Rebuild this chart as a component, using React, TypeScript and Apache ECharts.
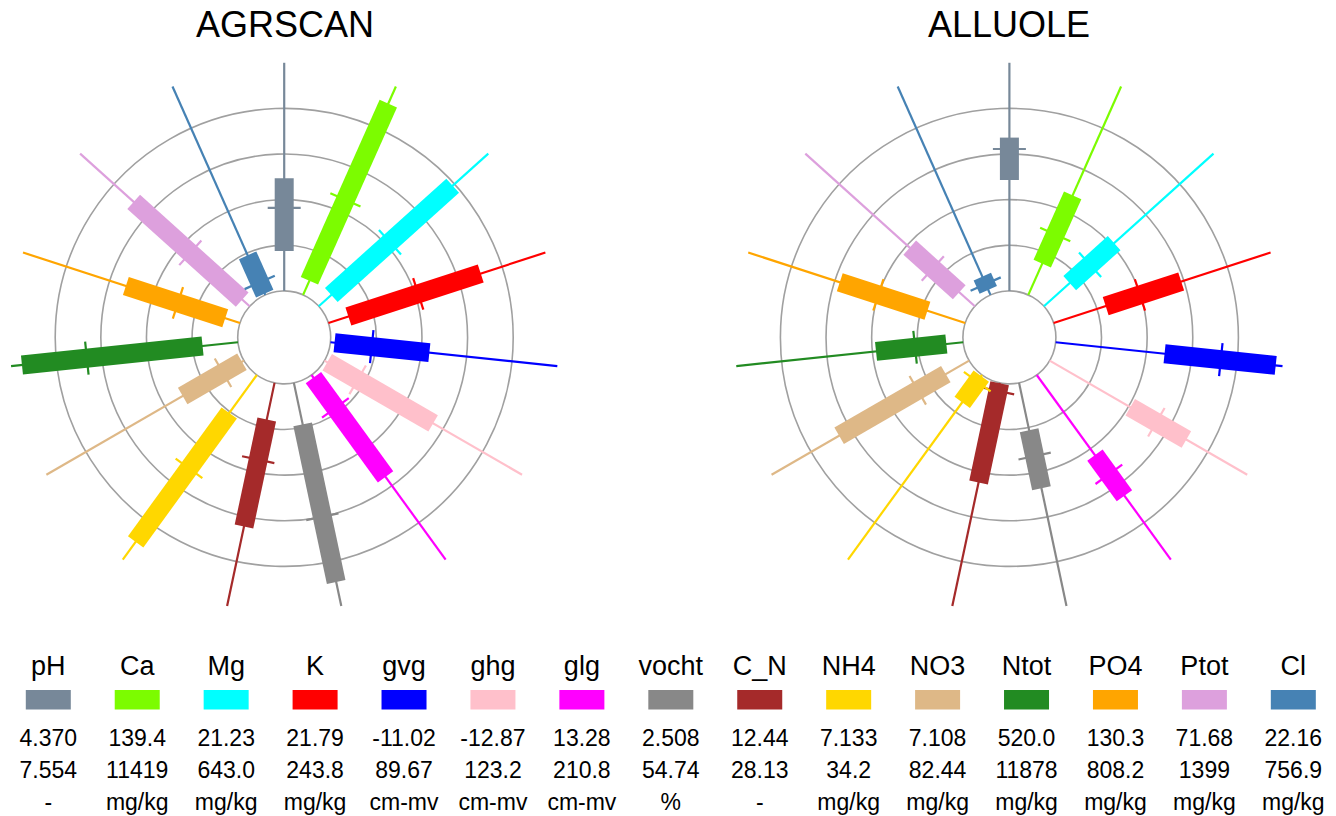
import React, { useEffect, useRef } from "react";
import * as echarts from "echarts";

// ---- data ----
const categories = ["pH", "Ca", "Mg", "K", "gvg", "ghg", "glg", "vocht", "C_N", "NH4", "NO3", "Ntot", "PO4", "Ptot", "Cl"];
const colors = ["#778899", "#7CFC00", "#00FFFF", "#FF0000", "#0000FF", "#FFC0CB", "#FF00FF", "#888888", "#A52A2A", "#FFD700", "#DEB887", "#228B22", "#FFA500", "#DDA0DD", "#4682B4"];
const minLabels = ["4.370", "139.4", "21.23", "21.79", "-11.02", "-12.87", "13.28", "2.508", "12.44", "7.133", "7.108", "520.0", "130.3", "71.68", "22.16"];
const maxLabels = ["7.554", "11419", "643.0", "243.8", "89.67", "123.2", "210.8", "54.74", "28.13", "34.2", "82.44", "11878", "808.2", "1399", "756.9"];
const units = ["-", "mg/kg", "mg/kg", "mg/kg", "cm-mv", "cm-mv", "cm-mv", "%", "-", "mg/kg", "mg/kg", "mg/kg", "mg/kg", "mg/kg", "mg/kg"];

const titles = ["AGRSCAN", "ALLUOLE"];

// radial positions (0 = inner circle, 4 = outer grid ring, 5 = whisker end)
const agrLow = [0.875, 0.34, 0.37, 0.46, 0.09, 0.07, 0.07, 0.93, 0.82, 1.03, 0.05, 0.78, 0.34, 0.22, 0.03];
const agrHigh = [2.47, 4.59, 3.95, 3.51, 2.18, 2.75, 2.76, 4.46, 3.22, 4.52, 1.55, 4.76, 2.63, 3.42, 0.95];
const agrMid = [1.82, 2.28, 2.10, 2.07, 0.91, 0.84, 0.89, 3.0, 1.72, 2.53, 0.53, 3.33, 1.43, 1.75, 0.30];

const allLow = [2.43, 0.75, 0.76, 1.20, 2.40, 2.04, 2.17, 1.06, 0.01, 0.03, 0.59, 0.37, 0.87, 0.46, 0.12];
const allHigh = [3.36, 2.39, 2.07, 2.94, 4.85, 3.46, 3.27, 2.36, 2.23, 0.74, 3.29, 1.92, 2.89, 1.92, 0.44];
const allMid = [3.11, 1.45, 1.36, 1.99, 3.64, 2.70, 2.69, 1.64, 0.18, 0.18, 1.30, 1.06, 2.00, 1.24, 0.26];

const WHISKER_END = 5;

// ---- layout ----
const FONT = '"Liberation Sans", Arial, Helvetica, sans-serif';
const CENTERS = [
  [284.2, 337.4],
  [1009.4, 337.4],
];
const TITLE_X = [285, 1009];
const BOX_W = 19;
const TICK_LEN = 33;
const LEG_X0 = 48.3;
const LEG_DX = 88.93;

function buildData(lo: number[], hi: number[], md: number[]) {
  return categories.map((_, i) => [i, lo[i], hi[i], md[i]]);
}

const renderItem = (params: any, api: any) => {
  const i = api.value(0);
  const lo = api.value(1);
  const hi = api.value(2);
  const md = api.value(3);
  const color = colors[i];
  const a = api.coord([0, i]);
  const b = api.coord([WHISKER_END, i]);
  const dx = b[0] - a[0];
  const dy = b[1] - a[1];
  const len = Math.hypot(dx, dy) || 1;
  const ux = dx / len;
  const uy = dy / len;
  const nx = -uy;
  const ny = ux;
  const p0 = api.coord([lo, i]);
  const p1 = api.coord([hi, i]);
  const pm = api.coord([md, i]);
  const hw = BOX_W / 2;
  const ht = TICK_LEN / 2;
  return {
    type: "group",
    children: [
      {
        type: "line",
        shape: { x1: a[0], y1: a[1], x2: b[0], y2: b[1] },
        style: { stroke: color, lineWidth: 2.2 },
      },
      {
        type: "line",
        shape: { x1: pm[0] + nx * ht, y1: pm[1] + ny * ht, x2: pm[0] - nx * ht, y2: pm[1] - ny * ht },
        style: { stroke: color, lineWidth: 2.2 },
      },
      {
        type: "polygon",
        shape: {
          points: [
            [p0[0] + nx * hw, p0[1] + ny * hw],
            [p1[0] + nx * hw, p1[1] + ny * hw],
            [p1[0] - nx * hw, p1[1] - ny * hw],
            [p0[0] - nx * hw, p0[1] - ny * hw],
          ],
        },
        style: { fill: color },
      },
    ],
  };
};

function textEl(text: string, x: number, y: number, size: number) {
  return {
    type: "text",
    x,
    y,
    silent: true,
    style: {
      text,
      fill: "#000",
      font: `${size}px ${FONT}`,
      fontSize: size,
      fontFamily: FONT,
      align: "center",
      textAlign: "center",
      verticalAlign: "middle",
      textVerticalAlign: "middle",
    },
  };
}

export default function App() {
  const ref = useRef<HTMLDivElement>(null);

  useEffect(() => {
    if (!ref.current) return;
    const chart = echarts.init(ref.current, undefined, { renderer: "svg" });

    const graphic: any[] = [];
    titles.forEach((t, k) => graphic.push(textEl(t, TITLE_X[k], 24.7, 36)));
    categories.forEach((c, i) => {
      const cx = LEG_X0 + i * LEG_DX;
      graphic.push(textEl(c, cx, 665.5, 27));
      graphic.push({
        type: "rect",
        silent: true,
        shape: { x: cx - 22.5, y: 690, width: 45, height: 19.5 },
        style: { fill: colors[i] },
      });
      graphic.push(textEl(minLabels[i], cx, 738.4, 23));
      graphic.push(textEl(maxLabels[i], cx, 770.4, 23));
      graphic.push(textEl(units[i], cx, 801.9, 23));
    });

    const option: any = {
      animation: false,
      backgroundColor: "#ffffff",
      polar: CENTERS.map((c) => ({ center: c, radius: [46.5, 229] })),
      angleAxis: [0, 1].map((k) => ({
        polarIndex: k,
        type: "value",
        min: 0,
        max: categories.length,
        startAngle: 90,
        clockwise: true,
        axisLine: { show: false },
        axisTick: { show: false },
        axisLabel: { show: false },
        splitLine: { show: false },
      })),
      radiusAxis: [0, 1].map((k) => ({
        polarIndex: k,
        type: "value",
        min: 0,
        max: 4,
        interval: 1,
        axisLine: { show: false },
        axisTick: { show: false },
        axisLabel: { show: false },
        splitLine: { show: true, lineStyle: { color: "#a0a0a0", width: 1.6 } },
      })),
      series: [
        {
          type: "custom",
          name: titles[0],
          coordinateSystem: "polar",
          polarIndex: 0,
          encode: { angle: 0, radius: 1 },
          renderItem,
          data: buildData(agrLow, agrHigh, agrMid),
        },
        {
          type: "custom",
          name: titles[1],
          coordinateSystem: "polar",
          polarIndex: 1,
          encode: { angle: 0, radius: 1 },
          renderItem,
          data: buildData(allLow, allHigh, allMid),
        },
      ],
      graphic,
    };
    chart.setOption(option);
    return () => chart.dispose();
  }, []);

  return (
    <div
      ref={ref}
      style={{ position: "fixed", left: 0, top: 0, width: 1336, height: 816, background: "#fff" }}
    />
  );
}
